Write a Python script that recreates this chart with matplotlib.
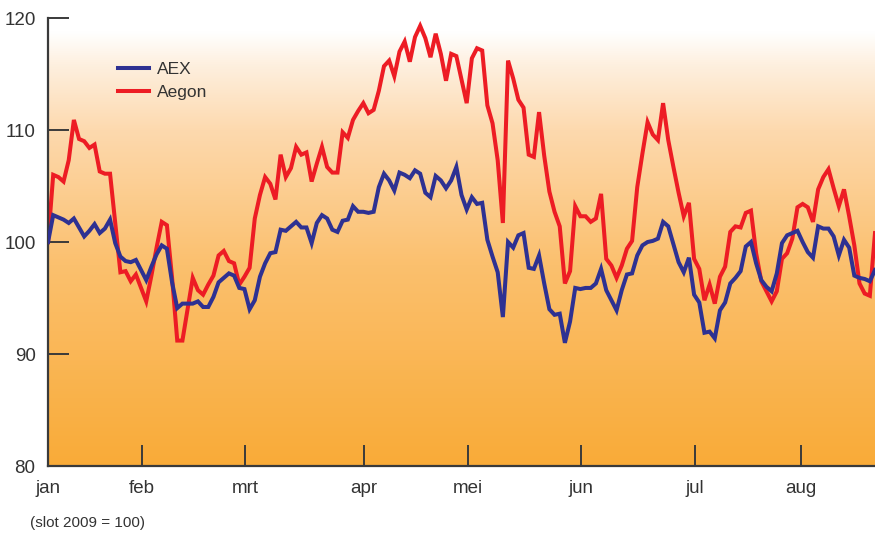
import numpy as np
import matplotlib.pyplot as plt
from matplotlib.colors import LinearSegmentedColormap

plt.rcParams['font.family'] = ['Liberation Sans', 'DejaVu Sans']

# index values, 2 Jan 2009 = 100, one point per trading day
aex = [100.0, 102.4, 102.2, 102.0, 101.7, 102.1, 101.3, 100.5, 101.0, 101.6,
       100.8, 101.2, 102.0, 99.9, 98.7, 98.3, 98.2, 98.4, 97.5, 96.6,
       97.8, 98.9, 99.7, 99.4, 96.4, 94.1, 94.5, 94.5, 94.5, 94.7,
       94.2, 94.2, 95.1, 96.4, 96.8, 97.2, 97.0, 95.9, 95.8, 94.0,
       94.8, 96.9, 98.1, 99.0, 99.1, 101.1, 101.0, 101.4, 101.8, 101.3,
       101.3, 99.9, 101.7, 102.4, 102.1, 101.1, 100.9, 101.9, 102.0, 103.2,
       102.7, 102.7, 102.6, 102.7, 104.9, 106.1, 105.5, 104.6, 106.2, 106.0,
       105.7, 106.4, 106.1, 104.4, 104.0, 105.9, 105.5, 104.8, 105.5, 106.7,
       104.2, 102.9, 104.0, 103.4, 103.5, 100.2, 98.7, 97.3, 93.3, 100.0,
       99.5, 100.6, 100.8, 97.7, 97.6, 98.8, 96.3, 94.0, 93.5, 93.6,
       91.0, 92.9, 95.9, 95.8, 95.9, 95.9, 96.3, 97.6, 95.7, 94.8,
       93.9, 95.7, 97.1, 97.2, 98.8, 99.7, 100.0, 100.1, 100.3, 101.8,
       101.4, 99.8, 98.2, 97.3, 98.6, 95.3, 94.6, 91.9, 92.0, 91.4,
       93.9, 94.6, 96.3, 96.8, 97.4, 99.6, 100.0, 98.1, 96.6, 96.0,
       95.6, 97.2, 99.9, 100.6, 100.8, 101.0, 100.0, 99.1, 98.6, 101.4,
       101.2, 101.2, 100.5, 98.8, 100.2, 99.5, 97.0, 96.8, 96.7, 96.5,
       97.5]

aegon = [100.0, 106.0, 105.8, 105.4, 107.3, 110.9, 109.2, 109.0, 108.4, 108.7,
         106.3, 106.1, 106.1, 101.7, 97.3, 97.4, 96.5, 97.1, 95.9, 94.7,
         97.0, 99.5, 101.8, 101.5, 96.8, 91.2, 91.2, 94.0, 96.8, 95.7,
         95.3, 96.2, 97.0, 98.8, 99.2, 98.3, 98.1, 96.2, 96.9, 97.7,
         102.1, 104.2, 105.8, 105.2, 103.8, 107.8, 105.8, 106.6, 108.5, 107.8,
         108.0, 105.4, 107.0, 108.5, 106.7, 106.2, 106.2, 109.8, 109.3, 110.9,
         111.7, 112.4, 111.5, 111.8, 113.5, 115.7, 116.2, 114.8, 117.0, 117.9,
         116.1, 118.3, 119.3, 118.2, 116.5, 118.6, 116.8, 114.4, 116.8, 116.6,
         114.5, 112.4, 116.4, 117.3, 117.1, 112.2, 110.6, 107.3, 101.7, 116.2,
         114.6, 112.7, 112.0, 107.8, 107.6, 111.6, 107.7, 104.5, 102.7, 101.4,
         96.3, 97.4, 103.2, 102.3, 102.3, 101.8, 102.1, 104.3, 98.5, 97.9,
         96.8, 97.9, 99.4, 100.1, 104.9, 107.9, 110.7, 109.6, 109.1, 112.4,
         109.1, 106.7, 104.4, 102.3, 103.5, 98.5, 97.6, 94.8, 96.2, 94.5,
         96.9, 97.8, 100.9, 101.4, 101.3, 102.6, 102.8, 99.0, 96.5, 95.6,
         94.7, 95.6, 98.5, 99.0, 100.3, 103.1, 103.4, 103.1, 101.8, 104.7,
         105.8, 106.5, 104.8, 103.2, 104.7, 102.3, 99.7, 96.3, 95.4, 95.2,
         100.8]

months = ['jan', 'feb', 'mrt', 'apr', 'mei', 'jun', 'jul', 'aug']
month_pos = [0, 18.2, 38.1, 61.1, 81.2, 103.1, 125.1, 145.6]

days = np.arange(len(aex))

fig = plt.figure(figsize=(8.75, 5.38), dpi=100)
ax = fig.add_axes([0.0549, 0.1338, 0.9451, 0.8327])

# white-to-orange background
bg = LinearSegmentedColormap.from_list('bg', [
    (0.0, '#f9ab38'), (0.45, '#fbc06e'), (0.75, '#fdd9ae'),
    (0.9, '#fef0e0'), (0.97, '#ffffff'), (1.0, '#ffffff')])
grad = np.linspace(0, 1, 256).reshape(-1, 1)
ax.imshow(grad, cmap=bg, origin='lower', aspect='auto',
          extent=[0, 1, 0, 1], transform=ax.transAxes, zorder=0)

ax.plot(days, aex, color='#2e3192', lw=2.9, label='AEX', zorder=3,
        solid_joinstyle='miter')
ax.plot(days, aegon, color='#ed1c24', lw=2.9, label='Aegon', zorder=2,
        solid_joinstyle='miter')

ax.set_xlim(0, len(aex) - 1)
ax.set_ylim(80, 120)
ax.set_yticks([80, 90, 100, 110, 120])
ax.set_xticks(month_pos)
ax.set_xticklabels(months)

for s in ['top', 'right']:
    ax.spines[s].set_visible(False)
for s in ['left', 'bottom']:
    ax.spines[s].set_color('#3a3a3a')
    ax.spines[s].set_linewidth(1.6)

ax.tick_params(axis='both', direction='in', length=15, width=1.4,
               color='#3a3a3a', labelsize=13.5, labelcolor='#333333')
ax.tick_params(axis='x', pad=10)
ax.tick_params(axis='y', pad=9)

leg = ax.legend(loc='upper left', bbox_to_anchor=(0.066, 0.937), frameon=False,
                fontsize=12.5, handlelength=1.75, handletextpad=0.5,
                labelspacing=0.45, labelcolor='#333333')

fig.text(0.034, 0.02, '(slot 2009 = 100)', fontsize=11, color='#333333')

fig.savefig('out.png', dpi=100)
